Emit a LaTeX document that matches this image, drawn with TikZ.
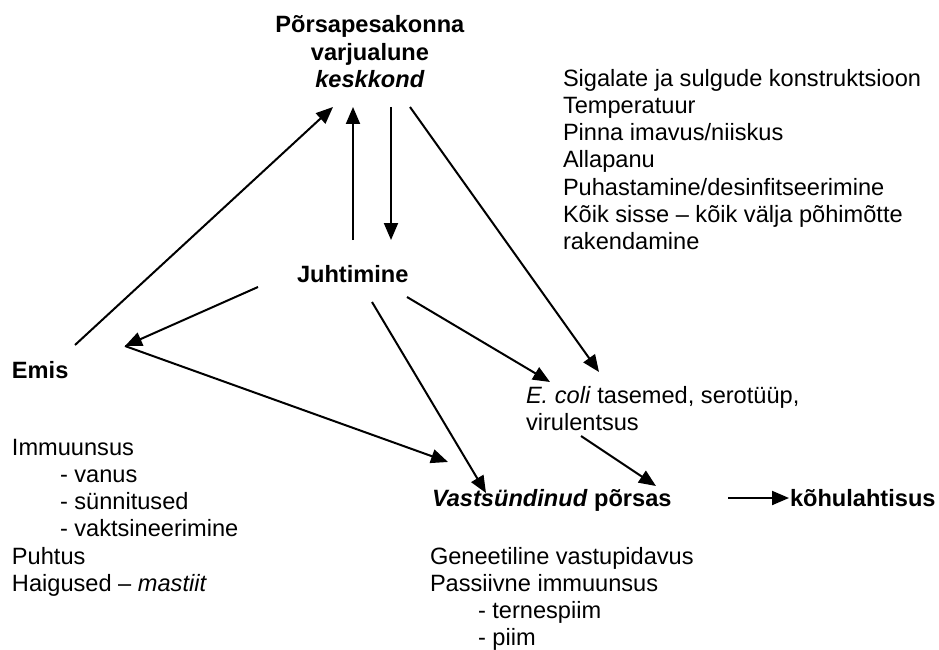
\documentclass[tikz,border=0pt]{standalone}
\usepackage{fontspec}
\setmainfont{Liberation Sans}
\usetikzlibrary{arrows.meta}
\begin{document}
\begin{tikzpicture}[x=1pt,y=-1pt,
  txt/.style={inner sep=0pt,outer sep=0pt,align=left,anchor=base west,
    font=\fontsize{23.6}{27.3}\selectfont},
  arr/.style={line width=2pt,-{Triangle[length=17pt,width=14pt]}}]
\useasboundingbox (0,0) rectangle (939,650);
% multi-line nodes: base anchor = baseline of the last line
\node[txt,align=center,anchor=base] (title) at (370,87.6)
  {\textbf{Põrsapesakonna}\\\textbf{varjualune}\\\textbf{\textit{keskkond}}};
\node[txt] (factors) at (563,249.8)
  {Sigalate ja sulgude konstruktsioon\\Temperatuur\\Pinna imavus/niiskus\\Allapanu\\Puhastamine/desinfitseerimine\\Kõik sisse – kõik välja põhimõtte\\rakendamine};
\node[txt] (juht) at (297,282) {\textbf{Juhtimine}};
\node[txt] (emis) at (12,378) {\textbf{Emis}};
\node[txt] (emisinfo) at (12,591.5)
  {Immuunsus\\\hspace*{48pt}- vanus\\\hspace*{48pt}- sünnitused\\\hspace*{48pt}- vaktsineerimine\\Puhtus\\Haigused – \textit{mastiit}};
\node[txt] (ecoli) at (526,430.3) {\textit{E. coli} tasemed, serotüüp,\\virulentsus};
\node[txt] (piglet) at (432,506) {\textbf{\textit{Vastsündinud} põrsas}};
\node[txt] (diarr) at (790,506) {\textbf{kõhulahtisus}};
\node[txt] (pinfo) at (430,645.9)
  {Geneetiline vastupidavus\\Passiivne immuunsus\\\hspace*{48pt}- ternespiim\\\hspace*{48pt}- piim};
% connectors
\draw[arr] ([shift={(63,-33)}]emis.base west) -- ([shift={(-37,19.4)}]title.base);
\draw[arr] ([shift={(56,-42)}]juht.base west) -- ([shift={(-17,19.4)}]title.base);
\draw[arr] ([shift={(21,19.4)}]title.base) -- ([shift={(94,-42)}]juht.base west);
\draw[arr] ([shift={(40,19.4)}]title.base) -- ([shift={(73,-58.3)}]ecoli.base west);
\draw[arr] ([shift={(-39,5)}]juht.base west) -- ([shift={(113,-32)}]emis.base west);
\draw[arr] ([shift={(113,-32)}]emis.base west) -- ([shift={(16,-44)}]piglet.base west);
\draw[arr] ([shift={(75,20)}]juht.base west) -- ([shift={(54,-13)}]piglet.base west);
\draw[arr] ([shift={(110,15)}]juht.base west) -- ([shift={(24,-48.3)}]ecoli.base west);
\draw[arr] ([shift={(55,5.7)}]ecoli.base west) -- ([shift={(224,-20)}]piglet.base west);
\draw[arr] ([shift={(296,-8)}]piglet.base west) -- ([shift={(-1,-8)}]diarr.base west);
\end{tikzpicture}
\end{document}
